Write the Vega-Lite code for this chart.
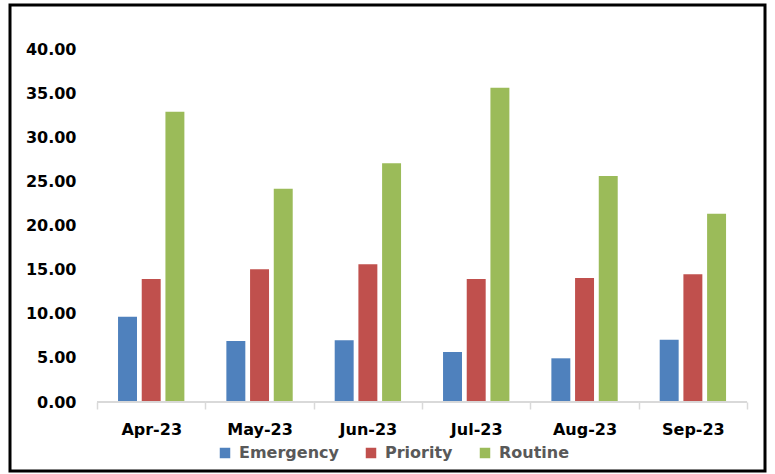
{
  "$schema": "https://vega.github.io/schema/vega-lite/v6.json",
  "width": 755,
  "height": 466,
  "autosize": {"type": "none"},
  "padding": {"left": 10, "top": 5, "right": 10, "bottom": 3},
  "background": "white",
  "config": {
    "view": {"stroke": "black", "strokeWidth": 3},
    "font": "DejaVu Sans"
  },
  "data": {
    "values": [
      {"month": "Apr-23", "type": "Emergency", "value": 9.68},
      {"month": "Apr-23", "type": "Priority", "value": 13.96},
      {"month": "Apr-23", "type": "Routine", "value": 32.95},
      {"month": "May-23", "type": "Emergency", "value": 6.92},
      {"month": "May-23", "type": "Priority", "value": 15.06},
      {"month": "May-23", "type": "Routine", "value": 24.2},
      {"month": "Jun-23", "type": "Emergency", "value": 7.0},
      {"month": "Jun-23", "type": "Priority", "value": 15.63},
      {"month": "Jun-23", "type": "Routine", "value": 27.09},
      {"month": "Jul-23", "type": "Emergency", "value": 5.68},
      {"month": "Jul-23", "type": "Priority", "value": 13.96},
      {"month": "Jul-23", "type": "Routine", "value": 35.68},
      {"month": "Aug-23", "type": "Emergency", "value": 4.96},
      {"month": "Aug-23", "type": "Priority", "value": 14.07},
      {"month": "Aug-23", "type": "Routine", "value": 25.65},
      {"month": "Sep-23", "type": "Emergency", "value": 7.07},
      {"month": "Sep-23", "type": "Priority", "value": 14.5},
      {"month": "Sep-23", "type": "Routine", "value": 21.37}
    ]
  },
  "layer": [
    {
      "mark": {"type": "bar"},
      "encoding": {
        "x": {
          "field": "month",
          "type": "nominal",
          "sort": null,
          "scale": {"paddingInner": 0, "paddingOuter": 0.4846, "align": 0.829},
          "axis": {
            "title": null,
            "orient": "bottom",
            "offset": -69,
            "labelAngle": 0,
            "labelFont": "DejaVu Sans",
            "labelFontSize": 16,
            "labelFontWeight": "bold",
            "labelColor": "black",
            "labelPadding": 12,
            "domain": false,
            "tickColor": "#D9D9D9",
            "tickWidth": 1.5,
            "tickSize": 7,
            "tickBand": "extent"
          }
        },
        "xOffset": {
          "field": "type",
          "type": "nominal",
          "scale": {"paddingInner": 0.2, "paddingOuter": 0.886}
        },
        "y": {
          "field": "value",
          "type": "quantitative",
          "scale": {"domain": [-7.83, 45.06], "nice": false, "zero": false},
          "axis": {
            "title": null,
            "orient": "left",
            "offset": -66,
            "values": [0, 5, 10, 15, 20, 25, 30, 35, 40],
            "format": ".2f",
            "grid": false,
            "domain": false,
            "ticks": false,
            "labelPadding": 0,
            "labelFont": "DejaVu Sans",
            "labelFontSize": 16,
            "labelFontWeight": "bold",
            "labelColor": "black"
          }
        },
        "y2": {"datum": 0},
        "color": {
          "field": "type",
          "type": "nominal",
          "scale": {
            "domain": ["Emergency", "Priority", "Routine"],
            "range": ["#4F81BD", "#C0504D", "#9BBB59"]
          },
          "legend": {
            "title": null,
            "orient": "none",
            "direction": "horizontal",
            "legendX": 207,
            "legendY": 440,
            "padding": 0,
            "symbolType": "square",
            "symbolSize": 110,
            "symbolStrokeWidth": 0,
            "symbolOpacity": 1,
            "labelFont": "DejaVu Sans",
            "labelFontSize": 16,
            "labelFontWeight": "bold",
            "labelColor": "#595959",
            "labelOffset": 6,
            "columnPadding": 24
          }
        }
      }
    },
    {
      "mark": {"type": "rule", "color": "#D9D9D9", "strokeWidth": 1.5},
      "encoding": {
        "x": {"field": "month", "type": "nominal", "sort": null, "bandPosition": 0},
        "x2": {"field": "month", "bandPosition": 1},
        "y": {"datum": 0}
      }
    }
  ]
}
